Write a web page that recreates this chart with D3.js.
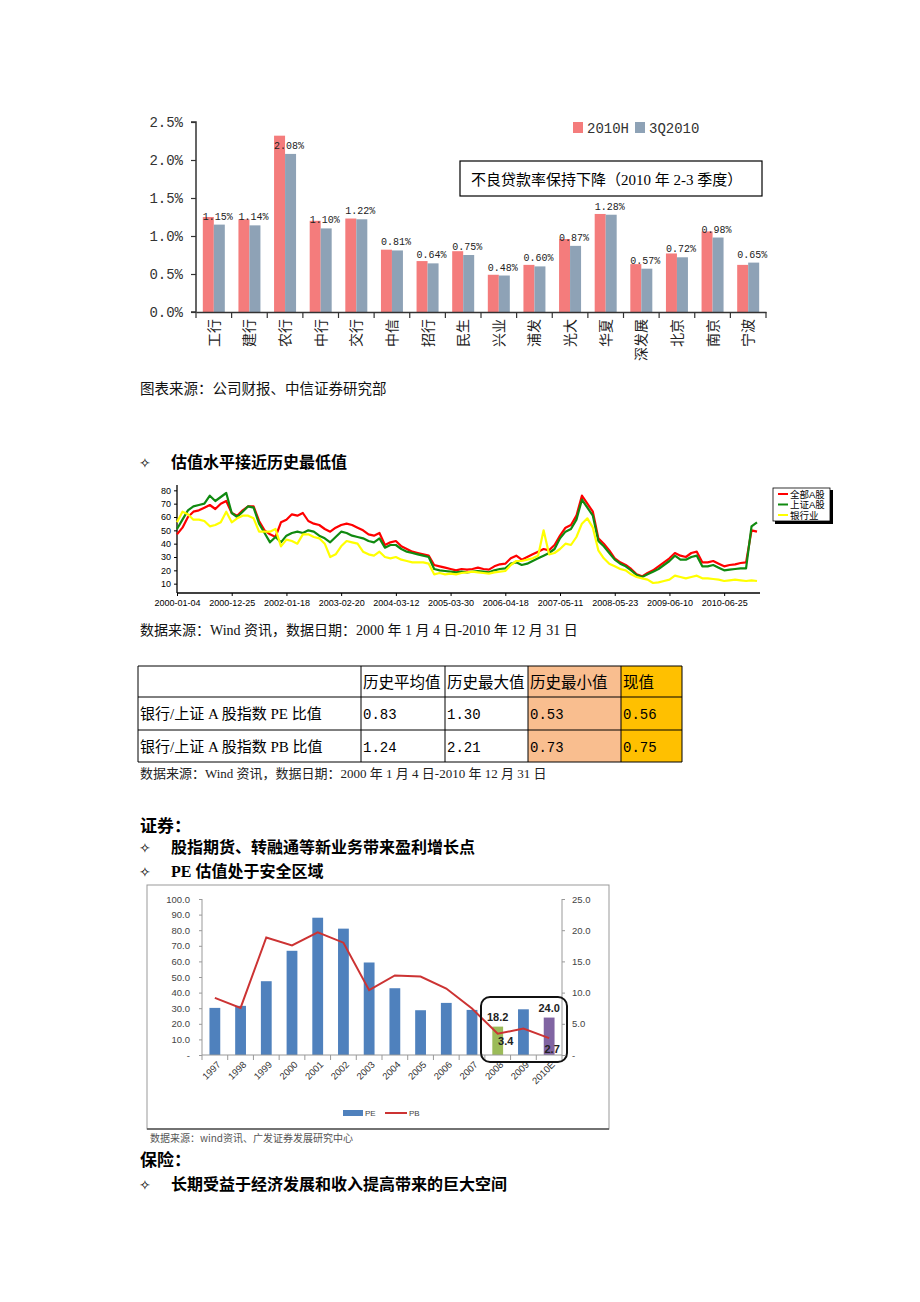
<!DOCTYPE html>
<html><head><meta charset="utf-8">
<script src="https://cdn.jsdelivr.net/npm/d3@7"></script>
<style>body{margin:0;background:#fff}</style>
</head><body>
<svg id="page" width="920" height="1302" xmlns="http://www.w3.org/2000/svg"></svg>
<script>
// ================= DATA =================
// Chart 1: NPL ratio by bank
const banks = ["工行","建行","农行","中行","交行","中信","招行","民生","兴业","浦发","光大","华夏","深发展","北京","南京","宁波"];
const npl2010H  = [1.25,1.22,2.32,1.20,1.23,0.82,0.67,0.80,0.49,0.62,0.96,1.29,0.63,0.77,1.06,0.62];
const npl3Q2010 = [1.15,1.14,2.08,1.10,1.22,0.81,0.64,0.75,0.48,0.60,0.87,1.28,0.57,0.72,0.98,0.65];
const nplSeriesNames = ["2010H","3Q2010"];
const nplTicks = [0,0.5,1.0,1.5,2.0,2.5];

// Chart 2: PE history (sampled), x = sample index
const peTickLabels = ["2000-01-04","2000-12-25","2002-01-18","2003-02-20","2004-03-12","2005-03-30","2006-04-18","2007-05-11","2008-05-23","2009-06-10","2010-06-25"];
const peTickIdx = [0,10,20,30,40,50,60,70,80,90,100];
const peYTicks = [10,20,30,40,50,60,70,80];
const peAllA = [47,52,60,64,65,67,69,66,70,72, 63,61,65,68,68,57,50,47,45,56,
  58,62,61,63,57,55,54,51,49,52, 54,55,54,52,50,47,46,48,39,41,
  42,38,36,34,33,32,31,24,23,22, 21,20,21,20.5,21,22,21,20.5,23,24.5,
  25,29,31,28,30,32,34,36,35,39, 46,52,54,61,76,70,64,44,40,35,
  29,26,24,21,17,15.5,18,20,23,26, 29,33,31,30,33,34,26,26,27,25,
  23,24,24.5,25.5,26,50,49];
const peSHA = [51,58,65,68,69,70,76,72,75,78, 63,60,64,68,67,55,48,41,45,41,
  46,48,49,48,50,49,46,44,41,45, 49,48,46,45,44,42,41,44,37,39,
  39,36,34,33,32,31,30,21,20,19.5, 19,18.5,19,18.5,19,19.5,19,18.5,20,21,
  21.5,25,26,24,25,27,29,31,33,36, 44,49,51,58,73,67,61,42,38,33,
  28,25,23,20,16.5,15,17,19,21,24, 27,31,28,28,30,31,23,23,24,22,
  20,20.5,21,21.5,21.5,53,56];
const peBank = [56,64,62,58,58,57,53,54,56,64, 56,59,61,61,59,49,49,49,51,38,
  43,42,40,47,47,45,44,40,30,32, 38,42,41,40,34,32,31,34,30,29,
  30,28,27,26,26,26,25,17,18,17, 17.5,17,18,18.5,19,18.5,18,17.5,18.5,19,
  19.5,24,27,27,28,29,31,50,32,33, 36,40,39,45,55,59,52,35,29,25,
  23,21,20,17,15,14,13,10.5,11,12, 13,16,15,14,15,16,14,14,13.5,13,
  12,12.5,13,12.5,12,12.5,12];
const peSeriesNames = ["全部A股","上证A股","银行业"];

// Table
const tblHeader = ["","历史平均值","历史最大值","历史最小值","现值"];
const tblRowNames = ["银行/上证 A 股指数 PE 比值","银行/上证 A 股指数 PB 比值"];
const tblAvg = ["0.83","1.24"];
const tblMax = ["1.30","2.21"];
const tblMin = ["0.53","0.73"];
const tblNow = ["0.56","0.75"];

// Chart 3: brokerage PE / PB
const brkYears = ["1997","1998","1999","2000","2001","2002","2003","2004","2005","2006","2007","2008","2009","2010E"];
const brkPE = [30.2,31.5,47.3,66.8,88.0,81.0,59.3,42.8,28.7,33.4,28.9,18.2,29.3,24.0];
const brkPB = [9.15,7.55,18.84,17.56,19.65,18.0,10.4,12.74,12.58,10.65,7.44,3.4,4.23,2.7];
const brkLeftTicks = [0,10,20,30,40,50,60,70,80,90,100];
const brkRightTicks = [0,5,10,15,20,25];

// ================= DRAW =================
const CJK = "'Noto Sans CJK SC', sans-serif";
const SERIF = "'Liberation Serif','Noto Sans CJK SC', serif";
const MONO = "'Liberation Mono','Noto Sans CJK SC', monospace";
const SANS = "'Liberation Sans','Noto Sans CJK SC', sans-serif";
const svg = d3.select("#page");
svg.append("rect").attr("width",920).attr("height",1302).attr("fill","#fff");

function txt(x,y,s,opt={}){
  return svg.append("text").attr("x",x).attr("y",y).text(s)
    .attr("font-family",opt.ff||SERIF).attr("font-size",opt.fs||14)
    .attr("font-weight",opt.fw||"normal").attr("fill",opt.fill||"#000")
    .attr("text-anchor",opt.anchor||"start");
}

// ---------- Chart 1 ----------
{
  const g = svg.append("g");
  const x = d3.scaleBand().domain(banks).range([196,766]);
  const y = d3.scaleLinear().domain([0,2.5]).range([312,122]);
  const xs = d3.scaleBand().domain(nplSeriesNames).range([-11,11]);
  const col = {"2010H":"#f47c7c","3Q2010":"#8ea2b6"};
  const vals = {"2010H":npl2010H,"3Q2010":npl3Q2010};
  nplSeriesNames.forEach(s=>{
    g.selectAll(null).data(banks).enter().append("rect")
      .attr("x",d=>x(d)+x.bandwidth()/2+xs(s))
      .attr("width",xs.bandwidth())
      .attr("y",(d,i)=>y(vals[s][i]))
      .attr("height",(d,i)=>y(0)-y(vals[s][i]))
      .attr("fill",col[s]);
  });
  g.selectAll(null).data(banks).enter().append("text")
    .attr("x",d=>x(d)+x.bandwidth()/2+4)
    .attr("y",(d,i)=>y(npl3Q2010[i])-5)
    .attr("text-anchor","middle").attr("font-family",MONO).attr("font-size",10).attr("fill","#222")
    .text((d,i)=>npl3Q2010[i].toFixed(2)+"%");
  const ya = g.append("g").attr("transform","translate(196,0)")
    .call(d3.axisLeft(y).tickValues(nplTicks).tickFormat(d=>d.toFixed(1)+"%").tickSize(5).tickPadding(8));
  ya.select(".domain").attr("d","M-5,122H0V312H-5").attr("stroke","#333").attr("stroke-width",1.5);
  ya.selectAll("line").attr("stroke","#333").attr("stroke-width",1.2);
  ya.selectAll("text").attr("font-family",MONO).attr("font-size",14).attr("fill","#333");
  const xa = g.append("g").attr("transform","translate(0,312)")
    .call(d3.axisBottom(x).tickSize(0).tickFormat(""));
  xa.select(".domain").attr("stroke","#333").attr("stroke-width",1.5);
  g.selectAll(null).data(banks.concat(["_end"])).enter().append("line")
    .attr("x1",(d,i)=>x.range()[0]+i*x.step()).attr("x2",(d,i)=>x.range()[0]+i*x.step())
    .attr("y1",312).attr("y2",318).attr("stroke","#333").attr("stroke-width",1.2);
  g.selectAll(null).data(banks).enter().append("text")
    .attr("transform",d=>`translate(${x(d)+x.bandwidth()/2},319) rotate(-90)`)
    .attr("text-anchor","end").attr("dy","0.36em")
    .attr("font-family",CJK).attr("font-size",14).attr("fill","#222").text(d=>d);
  nplSeriesNames.forEach((s,i)=>{
    const lx = [573,635][i];
    g.append("rect").attr("x",lx).attr("y",122).attr("width",10).attr("height",11).attr("fill",col[s]);
    g.append("text").attr("x",lx+14).attr("y",133).attr("font-family",MONO).attr("font-size",14).attr("fill","#333").text(s);
  });
  g.append("rect").attr("x",460).attr("y",161).attr("width",302).attr("height",35)
    .attr("fill","#fff").attr("stroke","#000").attr("stroke-width",1.2);
  g.append("text").attr("x",471).attr("y",185).attr("font-family",SERIF).attr("font-size",15).attr("fill","#000")
    .text("不良贷款率保持下降（2010 年 2-3 季度）");
}
txt(140,394,"图表来源：公司财报、中信证券研究部",{ff:SERIF,fs:14.5,fill:"#111"});

txt(139,468,"✧",{ff:"'DejaVu Sans'",fs:14});
txt(171,468,"估值水平接近历史最低值",{ff:CJK,fs:16,fw:"bold"});

// ---------- Chart 2 ----------
{
  const g = svg.append("g");
  const x = d3.scaleLinear().domain([0,106]).range([177,757]);
  const y = d3.scaleLinear().domain([3,84]).range([593,485]);
  const xa = g.append("g").attr("transform","translate(0,593)")
    .call(d3.axisBottom(x).tickValues(peTickIdx).tickFormat((d,i)=>peTickLabels[i]).tickSize(3).tickPadding(4));
  xa.select(".domain").attr("d","M177,0H760").attr("stroke","#000").attr("stroke-width",1.3);
  xa.selectAll("text").attr("font-family",SANS).attr("font-size",9).attr("fill","#000");
  const ya = g.append("g").attr("transform","translate(177,0)")
    .call(d3.axisLeft(y).tickValues(peYTicks).tickSize(3).tickPadding(3));
  ya.select(".domain").attr("d","M0,485V593").attr("stroke","#000").attr("stroke-width",1.3);
  ya.selectAll("text").attr("font-family",SANS).attr("font-size",9).attr("fill","#000");
  const line = d3.line().x((d,i)=>x(i)).y(d=>y(d)).curve(d3.curveLinear);
  const series = [[peAllA,"#ff0000"],[peSHA,"#108a10"],[peBank,"#ffff00"]];
  series.forEach(([arr,c])=>{
    g.append("path").datum(arr).attr("d",line).attr("fill","none").attr("stroke",c)
      .attr("stroke-width",2.2).attr("stroke-linejoin","round");
  });
  g.append("rect").attr("x",775).attr("y",490).attr("width",58).attr("height",34).attr("fill","#000");
  g.append("rect").attr("x",773).attr("y",488).attr("width",57).attr("height",33).attr("fill","#fff").attr("stroke","#000").attr("stroke-width",0.8);
  peSeriesNames.forEach((s,i)=>{
    const ly = 494 + i*10.5;
    g.append("line").attr("x1",778).attr("x2",788).attr("y1",ly).attr("y2",ly).attr("stroke",series[i][1]).attr("stroke-width",2);
    g.append("text").attr("x",790).attr("y",ly+3.5).attr("font-family",SANS).attr("font-size",9.5).attr("fill","#000").text(s);
  });
}
txt(140,635,"数据来源：Wind 资讯，数据日期：2000 年 1 月 4 日-2010 年 12 月 31 日",{ff:SERIF,fs:14,fill:"#111"});

// ---------- Table ----------
{
  const g = svg.append("g");
  const cx = [138,361,445,528,621,682];
  const ry = [666,697,730,762];
  const fills = ["#fff","#fff","#fff","#f9be8f","#ffc000"];
  for(let c=0;c<5;c++){
    g.append("rect").attr("x",cx[c]).attr("y",ry[0]).attr("width",cx[c+1]-cx[c]).attr("height",ry[3]-ry[0]).attr("fill",fills[c]);
  }
  cx.forEach(v=>g.append("line").attr("x1",v).attr("x2",v).attr("y1",ry[0]).attr("y2",ry[3]).attr("stroke","#000").attr("stroke-width",1));
  ry.forEach(v=>g.append("line").attr("x1",cx[0]).attr("x2",cx[5]).attr("y1",v).attr("y2",v).attr("stroke","#000").attr("stroke-width",1));
  tblHeader.forEach((h,c)=>{ if(h) txt(cx[c]+2,688,h,{ff:CJK,fs:15.5}); });
  const rows = [tblRowNames,tblAvg,tblMax,tblMin,tblNow];
  [0,1].forEach(r=>{
    rows.forEach((col,c)=>{
      txt(cx[c]+2, [719,752][r], col[r], {ff: c===0?SERIF:MONO, fs: c===0?15:14});
    });
  });
}
txt(140,778,"数据来源：Wind 资讯，数据日期：2000 年 1 月 4 日-2010 年 12 月 31 日",{ff:SERIF,fs:13,fill:"#222"});

txt(140,832,"证券：",{ff:CJK,fs:17,fw:"bold"});
txt(139,853,"✧",{ff:"'DejaVu Sans'",fs:14});
txt(171,853,"股指期货、转融通等新业务带来盈利增长点",{ff:CJK,fs:16,fw:"bold"});
txt(139,877,"✧",{ff:"'DejaVu Sans'",fs:14});
txt(171,877,"PE 估值处于安全区域",{ff:"'Liberation Serif','Noto Sans CJK SC'",fs:16,fw:"bold"});

// ---------- Chart 3 ----------
{
  const g = svg.append("g");
  g.append("rect").attr("x",147).attr("y",885).attr("width",462).attr("height",244)
    .attr("fill","none").attr("stroke","#999").attr("stroke-width",1);
  g.append("line").attr("x1",147).attr("x2",609).attr("y1",1129).attr("y2",1129).attr("stroke","#555").attr("stroke-width",1.5);
  const x = d3.scaleBand().domain(brkYears).range([202,562]).paddingInner(0.58).paddingOuter(0.29);
  const yL = d3.scaleLinear().domain([0,100]).range([1055,899]);
  const yR = d3.scaleLinear().domain([0,25]).range([1055,899]);
  const barCol = (d)=> d==="2008" ? "#9bbb59" : d==="2010E" ? "#8064a2" : "#4f81bd";
  g.selectAll(null).data(brkYears).enter().append("rect")
    .attr("x",d=>x(d)).attr("width",x.bandwidth())
    .attr("y",(d,i)=>yL(brkPE[i])).attr("height",(d,i)=>yL(0)-yL(brkPE[i]))
    .attr("fill",d=>barCol(d));
  const la = g.append("g").attr("transform","translate(202,0)")
    .call(d3.axisLeft(yL).tickValues(brkLeftTicks).tickFormat(d=>d===0?"-":d.toFixed(1)).tickSize(3).tickPadding(9));
  la.select(".domain").attr("d","M0,899V1055").attr("stroke","#999");
  la.selectAll("line").attr("stroke","#999");
  la.selectAll("text").attr("font-family",SANS).attr("font-size",9.5).attr("fill","#444");
  const ra = g.append("g").attr("transform","translate(562,0)")
    .call(d3.axisRight(yR).tickValues(brkRightTicks).tickFormat(d=>d===0?"-":d.toFixed(1)).tickSize(3).tickPadding(7));
  ra.select(".domain").attr("d","M0,899V1055").attr("stroke","#999");
  ra.selectAll("line").attr("stroke","#999");
  ra.selectAll("text").attr("font-family",SANS).attr("font-size",9.5).attr("fill","#444");
  const xa = g.append("g").attr("transform","translate(0,1055)").call(d3.axisBottom(x).tickSize(0).tickFormat(""));
  xa.select(".domain").attr("d","M202,0H562").attr("stroke","#999");
  g.selectAll(null).data(brkYears.concat(["_e"])).enter().append("line")
    .attr("x1",(d,i)=>202+i*x.step()).attr("x2",(d,i)=>202+i*x.step())
    .attr("y1",1055).attr("y2",1060).attr("stroke","#999");
  g.selectAll(null).data(brkYears).enter().append("text")
    .attr("transform",d=>`translate(${x(d)+x.bandwidth()/2+4},1063) rotate(-45)`)
    .attr("text-anchor","end").attr("dy","0.35em")
    .attr("font-family",SANS).attr("font-size",9.5).attr("fill","#333").text(d=>d);
  const line = d3.line().x((d,i)=>x(brkYears[i])+x.bandwidth()/2).y(d=>yR(d));
  g.append("path").datum(brkPB).attr("d",line).attr("fill","none").attr("stroke","#cc3333").attr("stroke-width",2);
  const i08 = brkYears.indexOf("2008"), i10 = brkYears.indexOf("2010E");
  const lab = (s,xx,yy)=>g.append("text").attr("x",xx).attr("y",yy).attr("text-anchor","middle")
      .attr("font-family",SANS).attr("font-weight","bold").attr("font-size",11).attr("fill","#222").text(s);
  lab(brkPE[i08].toFixed(1), x("2008")+x.bandwidth()/2, yL(brkPE[i08])-6);
  lab(brkPB[i08].toFixed(1), x("2008")+x.bandwidth()/2+8, yR(brkPB[i08])+11);
  lab(brkPE[i10].toFixed(1), x("2010E")+x.bandwidth()/2, yL(brkPE[i10])-6);
  lab(brkPB[i10].toFixed(1), x("2010E")+x.bandwidth()/2+3, yR(brkPB[i10])+15);
  g.append("rect").attr("x",481).attr("y",997).attr("width",86).attr("height",65).attr("rx",9)
    .attr("fill","none").attr("stroke","#111").attr("stroke-width",2);
  g.append("rect").attr("x",343).attr("y",1110).attr("width",20).attr("height",6).attr("fill","#4f81bd");
  g.append("text").attr("x",365).attr("y",1116).attr("font-family",SANS).attr("font-size",8).attr("fill","#444").text("PE");
  g.append("line").attr("x1",385).attr("x2",407).attr("y1",1113).attr("y2",1113).attr("stroke","#cc3333").attr("stroke-width",2);
  g.append("text").attr("x",409).attr("y",1116).attr("font-family",SANS).attr("font-size",8).attr("fill","#444").text("PB");
}
txt(150,1142,"数据来源：wind资讯、广发证券发展研究中心",{ff:CJK,fs:10,fill:"#555"});

txt(140,1166,"保险：",{ff:CJK,fs:17,fw:"bold"});
txt(139,1190,"✧",{ff:"'DejaVu Sans'",fs:14});
txt(171,1190,"长期受益于经济发展和收入提高带来的巨大空间",{ff:CJK,fs:16,fw:"bold"});
</script>
</body></html>
